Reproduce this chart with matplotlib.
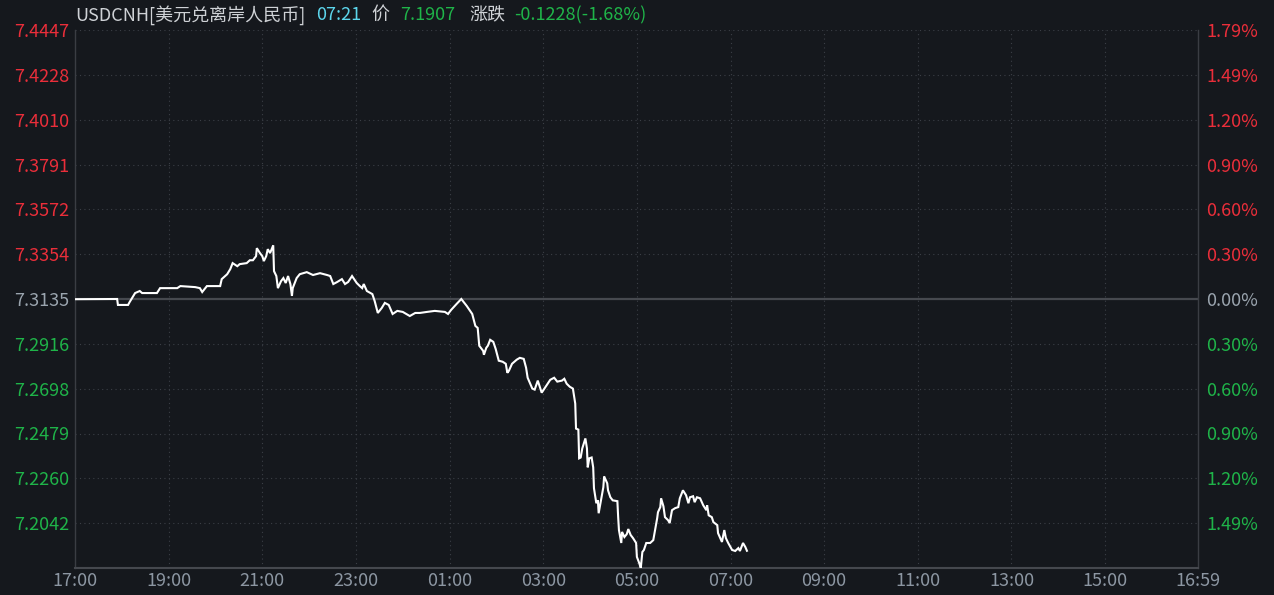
import matplotlib
matplotlib.use("Agg")
import matplotlib.pyplot as plt

plt.rcParams['font.family'] = ['Noto Sans CJK SC', 'DejaVu Sans']

# ---------------------------------------------------------------------------
# data (minutes after 17:00, price)
# ---------------------------------------------------------------------------
minutes = [0, 54, 55, 68, 70, 77, 83, 86, 105, 109, 131, 135, 154, 160, 163, 169, 186,
           188, 195, 199, 202, 208, 211, 220, 224, 228, 232, 233, 237, 240, 242, 245,
           247, 250, 254, 255, 258, 260, 264, 267, 270, 273, 276, 278, 279, 284, 288,
           297, 305, 314, 323, 327, 331, 336, 342, 346, 350, 355, 361, 365, 368, 370,
           374, 381, 384, 388, 393, 397, 402, 407, 413, 420, 429, 436, 442, 451, 461,
           474, 478, 482, 489, 495, 502, 509, 513, 516, 518, 523, 524, 527, 529, 532,
           536, 539, 543, 548, 552, 554, 556, 560, 566, 570, 575, 578, 580, 586, 589,
           593, 598, 604, 609, 614, 618, 624, 627, 630, 634, 638, 641, 642, 645, 646,
           648, 650, 654, 656, 657, 659, 662, 664, 665, 668, 670, 671, 674, 677, 678,
           682, 683, 686, 689, 695, 696, 697, 700, 701, 704, 707, 709, 712, 715, 719,
           720, 723, 725, 727, 729, 732, 737, 741, 743, 746, 747, 750, 751, 754, 756,
           760, 762, 765, 769, 773, 775, 779, 783, 786, 788, 792, 794, 797, 801, 805,
           809, 810, 812, 816, 818, 823, 824, 829, 832, 834, 837, 842, 846, 850, 852,
           856, 859, 861]
prices = [7.3134, 7.3135, 7.3106, 7.3106, 7.3120, 7.3164, 7.3174, 7.3164, 7.3164, 7.3188,
          7.3188, 7.3198, 7.3193, 7.3188, 7.3169, 7.3198, 7.3198, 7.3232, 7.3256, 7.3281,
          7.3310, 7.3295, 7.3305, 7.3310, 7.3324, 7.3324, 7.3344, 7.3383, 7.3359, 7.3344,
          7.3320, 7.3344, 7.3378, 7.3359, 7.3397, 7.3271, 7.3247, 7.3188, 7.3222, 7.3237,
          7.3213, 7.3247, 7.3208, 7.3150, 7.3188, 7.3237, 7.3256, 7.3266, 7.3252, 7.3261,
          7.3252, 7.3247, 7.3208, 7.3218, 7.3232, 7.3208, 7.3218, 7.3247, 7.3213, 7.3198,
          7.3188, 7.3208, 7.3174, 7.3159, 7.3125, 7.3067, 7.3091, 7.3116, 7.3106, 7.3062,
          7.3077, 7.3072, 7.3052, 7.3067, 7.3067, 7.3072, 7.3077, 7.3072, 7.3062, 7.3082,
          7.3111, 7.3135, 7.3101, 7.3062, 7.3004, 7.2994, 7.2907, 7.2882, 7.2863, 7.2897,
          7.2907, 7.2936, 7.2926, 7.2892, 7.2834, 7.2829, 7.2819, 7.2775, 7.2785, 7.2819,
          7.2839, 7.2848, 7.2843, 7.2800, 7.2751, 7.2698, 7.2693, 7.2737, 7.2678, 7.2712,
          7.2741, 7.2751, 7.2732, 7.2737, 7.2746, 7.2722, 7.2707, 7.2698, 7.2625, 7.2503,
          7.2498, 7.2358, 7.2362, 7.2406, 7.2455, 7.2406, 7.2314, 7.2358, 7.2362, 7.2314,
          7.2212, 7.2139, 7.2153, 7.2090, 7.2153, 7.2217, 7.2270, 7.2236, 7.2202, 7.2168,
          7.2153, 7.2149, 7.2071, 7.2008, 7.1945, 7.1999, 7.1974, 7.1988, 7.2013, 7.1984,
          7.1969, 7.1945, 7.1877, 7.1847, 7.1823, 7.1901, 7.1911, 7.1945, 7.1945, 7.1959,
          7.2003, 7.2066, 7.2095, 7.2120, 7.2163, 7.2124, 7.2071, 7.2056, 7.2042, 7.2105,
          7.2115, 7.2120, 7.2163, 7.2202, 7.2178, 7.2139, 7.2168, 7.2173, 7.2144, 7.2168,
          7.2163, 7.2129, 7.2105, 7.2129, 7.2080, 7.2071, 7.2047, 7.2032, 7.1993, 7.1950,
          7.2008, 7.1969, 7.1945, 7.1911, 7.1906, 7.1920, 7.1906, 7.1945, 7.1925, 7.1907]

prev_close = 7.3135
price_labels = ["7.4447", "7.4228", "7.4010", "7.3791", "7.3572", "7.3354", "7.3135",
                "7.2916", "7.2698", "7.2479", "7.2260", "7.2042"]
pct_labels = ["1.79%", "1.49%", "1.20%", "0.90%", "0.60%", "0.30%", "0.00%",
              "0.30%", "0.60%", "0.90%", "1.20%", "1.49%"]
time_ticks = [0, 120, 240, 360, 480, 600, 720, 840, 960, 1080, 1200, 1320, 1439]
time_labels = ["17:00", "19:00", "21:00", "23:00", "01:00", "03:00", "05:00", "07:00",
               "09:00", "11:00", "13:00", "15:00", "16:59"]
y_bottom = 7.1823

# ---------------------------------------------------------------------------
# colours
# ---------------------------------------------------------------------------
BG = "#15181d"
GRID = "#3b3f46"
RED = "#ea2e3a"
GREEN = "#1fb449"
GRAY = "#9aa4ae"
TXT = "#cfd2d6"
FS = 13

W, H = 1274, 595
fig = plt.figure(figsize=(W / 100, H / 100), dpi=100, facecolor=BG)
ax = fig.add_axes([75 / W, 27 / H, (1198 - 75) / W, (568 - 30) / H])
ax.set_facecolor(BG)

ax.plot(minutes, prices, color="white", lw=1.5, solid_joinstyle="miter", zorder=3)

ax.set_xlim(0, 1439)
ax.set_ylim(y_bottom, float(price_labels[0]))

# grid
tick_vals = [float(s) for s in price_labels]
for v in tick_vals:
    if abs(v - prev_close) < 1e-6:
        ax.axhline(v, color="#46494f", lw=1.6, zorder=2)
    else:
        ax.axhline(v, color=GRID, lw=0.8, ls=(0, (1, 3)), zorder=1)
for t in time_ticks[1:-1]:
    ax.axvline(t, color=GRID, lw=0.8, ls=(0, (1, 3)), zorder=1)

for side in ["left", "right"]:
    ax.spines[side].set_color("#3a3d43")
    ax.spines[side].set_linewidth(1)
ax.spines["bottom"].set_color("#45484e")
ax.spines["bottom"].set_linewidth(1.5)
ax.spines["top"].set_visible(False)


def tick_color(v):
    if abs(v - prev_close) < 1e-6:
        return GRAY
    return RED if v > prev_close else GREEN


ax.set_yticks(tick_vals)
ax.set_yticklabels(price_labels, fontsize=FS)
ax.tick_params(axis="y", length=0, pad=4)
for lab, v in zip(ax.get_yticklabels(), tick_vals):
    lab.set_color(tick_color(v))

ax2 = ax.twinx()
ax2.set_ylim(ax.get_ylim())
ax2.set_yticks(tick_vals)
ax2.set_yticklabels(pct_labels, fontsize=FS)
ax2.tick_params(axis="y", length=0, pad=6)
for lab, v in zip(ax2.get_yticklabels(), tick_vals):
    lab.set_color(tick_color(v))
for sp in ax2.spines.values():
    sp.set_visible(False)

ax.set_xticks(time_ticks)
ax.set_xticklabels(time_labels, fontsize=FS, color="#8c96a2")
ax.tick_params(axis="x", length=0, pad=3)

# header
ty = 1 - 15 / H
parts = [(75, "USDCNH[美元兑离岸人民币]", TXT), (316, "07:21", "#5cd6ec"),
         (371, "价", TXT), (400, "7.1907", GREEN), (469, "涨跌", TXT),
         (514, "-0.1228(-1.68%)", GREEN)]
for px, s, c in parts:
    fig.text(px / W, ty, s, color=c, fontsize=FS, va="center", ha="left")

fig.savefig("out.png", dpi=100, facecolor=BG)
